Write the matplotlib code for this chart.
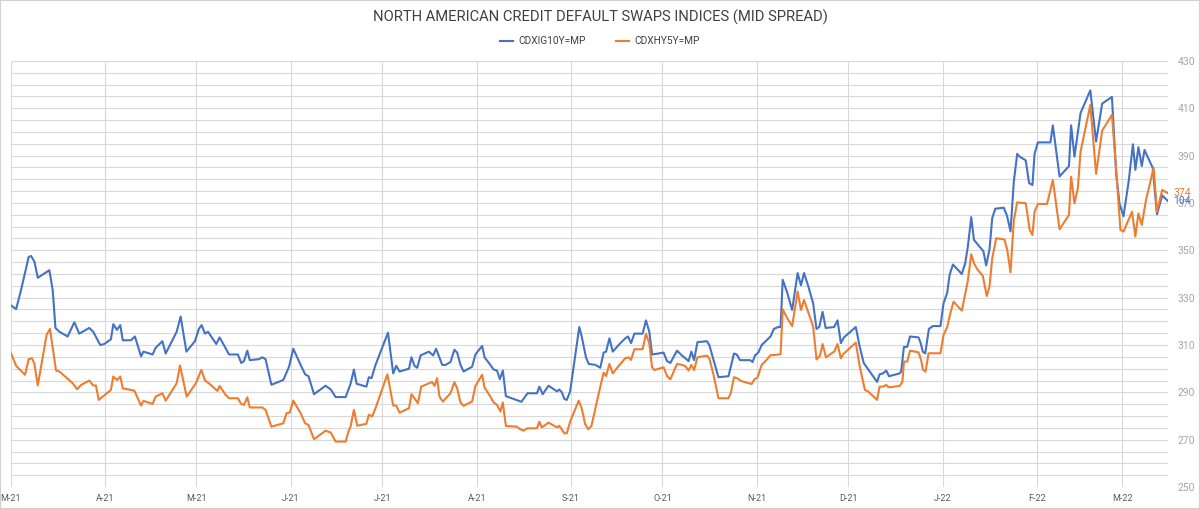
import pandas as pd
import matplotlib.pyplot as plt
from matplotlib.patches import Rectangle

plt.rcParams['font.family'] = ['Roboto', 'DejaVu Sans']

# days since 2021-03-01
ig_day = [0.0, 1.8, 3.4, 5.9, 6.7, 7.8, 8.9, 12.7, 13.8, 14.7, 16.0, 18.7, 20.9, 22.5, 25.8, 27.1,
          29.4, 30.7, 32.9, 33.7, 34.9, 36.0, 36.8, 39.5, 40.8, 42.8, 43.6, 46.6,
          47.6, 49.8, 50.9, 54.5, 55.8, 57.7, 60.5, 61.8, 62.7, 63.8, 64.8, 67.5, 68.6, 70.0,
          71.7, 74.6, 75.7, 76.6, 77.7, 78.5, 81.5, 82.6, 83.7, 85.6, 89.5, 91.4, 92.8, 95.2,
          96.7, 97.8, 99.6, 103.4, 105.1, 106.7, 110.0, 111.6, 112.7, 113.6, 116.8, 117.6, 118.5,
          119.8, 123.9, 125.6, 126.6, 127.7, 130.8, 131.6, 132.6, 133.5, 134.6, 137.3, 138.7,
          139.7, 141.7, 142.8,
          144.4, 145.7, 146.6, 147.7, 148.7, 151.5, 152.6, 154.8, 155.6, 157.5, 158.6, 159.7,
          160.6, 161.6, 162.6, 165.1, 167.7, 169.7, 172.8, 173.6, 174.7, 176.6, 179.4, 180.1,
          181.0, 181.8, 182.6, 183.7, 186.7, 187.5, 188.9,
          189.8, 192.0, 193.6, 194.7, 195.5, 196.6, 197.7, 200.2, 201.8, 202.7, 203.7, 204.8,
          207.5, 208.6, 209.7, 210.6, 212.7, 214.4, 215.5, 216.6, 218.8, 220.4, 222.6, 223.5,
          224.4, 225.5, 228.6, 229.4, 230.8, 232.4, 235.7,
          237.5, 238.4, 239.5, 242.8, 243.6, 244.4, 245.5, 246.6, 248.2, 249.5, 250.6, 252.0,
          252.8, 253.5, 255.0, 256.6, 258.4, 259.5, 260.5, 261.9, 263.5, 264.6, 265.5, 266.6,
          267.6, 270.4, 271.5, 272.6, 273.6, 277.5, 278.8, 280.1, 281.2, 284.5,
          285.3, 286.4, 287.5, 288.4, 291.9, 292.4, 293.3, 294.4, 295.3, 298.1, 298.8, 299.5,
          300.3, 301.5, 302.8, 305.3, 306.3, 307.5, 308.3, 309.4, 312.3, 313.4, 314.3, 315.4,
          316.3, 317.6, 319.4, 320.3, 321.4, 322.3, 323.3, 326.1, 327.2, 328.3, 329.4, 330.5,
          331.3, 333.3, 334.4, 335.5, 336.2, 337.3, 341.4, 342.2, 344.4, 347.5, 348.2, 349.3,
          351.3, 354.5, 356.4, 358.4, 361.6, 363.0, 364.1, 365.4, 367.1, 368.5, 369.3, 370.3,
          371.4, 372.3, 375.0, 376.4, 378.1, 380.0]
ig_val = [93.2, 92.8, 94.8, 98.3, 98.4, 97.8, 96.1, 96.9, 94.8, 90.8, 90.4, 89.9, 91.4, 90.2, 90.8, 90.4,
          89.0, 89.1, 89.6, 91.2, 90.6, 91.1, 89.5, 89.5, 89.9, 87.8, 88.3, 88.0,
          88.7, 89.4, 88.1, 90.4, 92.0, 88.3, 89.4, 90.7, 91.1, 90.2, 90.4, 89.1, 89.8, 89.0,
          88.0, 88.0, 87.1, 87.3, 88.4, 87.4, 87.5, 87.7, 87.5, 84.8, 85.3, 86.7, 88.6, 86.9,
          85.9, 85.7, 83.8, 84.7, 84.3, 83.5, 83.5, 84.9, 86.4, 84.9, 84.6, 85.6, 85.5,
          86.9, 90.3, 86.0, 86.8, 86.2, 86.5, 87.7, 86.8, 86.6, 87.9, 88.3, 87.9,
          88.6, 86.9, 86.9,
          87.2, 88.5, 88.2, 86.9, 86.2, 86.7, 88.0, 88.9, 87.7, 86.9, 86.4, 86.3,
          85.4, 86.3, 83.6, 83.3, 83.0, 83.9, 83.9, 84.6, 83.8, 84.7, 84.1, 84.3,
          84.0, 83.3, 83.2, 84.1, 90.9, 89.9, 87.7,
          87.0, 86.9, 86.6, 88.2, 88.3, 89.7, 88.3, 89.2, 89.7, 89.9, 89.2, 90.2,
          90.2, 91.6, 90.4, 88.0, 88.1, 88.2, 87.3, 87.1, 88.4, 87.9, 87.3, 88.3,
          87.4, 89.3, 89.4, 89.0, 87.4, 85.6, 85.7,
          88.1, 88.0, 87.4, 87.4, 87.2, 87.9, 88.2, 89.0, 89.5, 89.9, 90.7, 90.9,
          90.9, 95.9, 94.5, 92.7, 96.6, 95.3, 96.6, 95.2, 93.4, 90.7, 90.9, 92.5,
          90.8, 90.9, 91.6, 89.2, 89.8, 90.9, 88.8, 87.1, 86.6, 85.1,
          85.9, 86.0, 86.3, 85.7, 86.0, 86.2, 88.8, 88.8, 89.9, 89.8, 89.2, 88.3,
          88.1, 90.7, 91.0, 91.0, 93.4, 94.5, 96.4, 97.5, 96.5, 97.6, 99.4, 102.5,
          100.1, 99.6, 98.9, 97.4, 99.1, 102.4, 103.4, 103.5, 102.6, 101.0, 106.3, 109.2,
          108.9, 108.5, 106.1, 105.9, 109.2, 110.4, 110.4, 112.2, 106.8, 107.9, 112.2, 108.9,
          113.5, 115.9, 110.5, 114.5, 115.2, 107.1, 103.9, 102.6, 106.3, 110.2, 107.5, 109.9,
          107.9, 109.6, 107.7, 102.8, 104.8, 104.2]

hy_day = [0.0, 1.8, 4.7, 5.9, 7.0, 7.8, 8.9, 11.8, 12.9, 14.9, 16.0, 20.4, 21.8, 23.1, 25.8, 27.1,
          28.0, 28.9, 32.9, 33.7, 34.9, 36.0, 36.8, 40.6, 42.8, 43.6, 46.6,
          47.6, 49.8, 50.9, 54.5, 55.6, 57.8, 60.8, 62.6, 63.8, 65.1, 67.9, 68.6, 70.6, 71.7,
          74.6, 75.7, 76.6, 77.7, 78.5, 82.6, 83.7, 85.6, 89.5, 90.6, 91.6, 92.8, 95.2,
          96.7, 97.8, 99.6, 103.4, 105.1, 106.7, 110.0, 110.9, 111.6, 112.7, 113.8, 116.8, 117.6,
          118.7, 119.8, 123.7, 125.6, 126.6, 127.7, 130.8, 131.6, 132.6, 133.7, 134.8, 137.3,
          138.4, 139.2, 140.0, 140.8, 141.9,
          144.4, 145.7, 146.6, 147.7, 148.7, 151.5, 152.6, 154.8, 155.6, 157.5, 158.6, 159.7,
          160.8, 161.6, 162.6, 166.2, 167.3, 168.4, 169.7, 172.8, 173.6, 174.4, 176.6, 179.4,
          180.1, 181.8, 182.6, 183.7, 186.5, 187.5, 188.6,
          189.6, 190.7, 192.0, 193.6, 194.7, 195.5, 196.6, 197.7, 199.6, 201.8, 202.9, 203.7,
          204.8, 207.5, 208.6, 209.7, 210.6, 211.4, 212.7, 214.4, 215.5, 216.6, 218.8, 220.4,
          221.5, 222.6, 223.5, 224.4, 225.5, 228.6, 229.4, 230.8, 232.4, 235.7, 236.5,
          237.5, 238.6, 239.8, 243.3, 244.2, 245.2, 246.6, 248.2, 249.5, 250.9, 252.8, 253.5,
          255.0, 256.6, 258.4, 259.5, 260.5, 263.5, 264.6, 265.7, 266.6, 267.7, 270.4, 271.5,
          272.6, 273.4, 277.5, 278.8, 280.5, 281.6, 284.5,
          285.3, 286.4, 287.5, 288.4, 291.9, 292.8, 293.3, 294.4, 295.3, 298.1, 299.0, 299.5,
          300.4, 301.4, 305.3, 306.3, 307.5, 308.6, 309.6, 312.3, 313.4, 314.3, 315.4, 316.3,
          317.4, 319.2, 320.5, 321.4, 322.3, 323.6, 326.3, 327.2, 328.3, 329.4, 330.5,
          331.3, 333.3, 334.6, 335.5, 336.2, 337.3, 340.3, 342.2, 344.4, 347.5, 348.2, 349.3,
          350.4, 351.3, 354.5, 356.4, 358.4, 361.6, 363.0, 364.4, 365.4, 368.2, 369.3, 370.3,
          371.4, 372.8, 375.3, 376.4, 378.1, 380.0]
hy_val = [306.8, 301.2, 297.4, 304.0, 304.4, 302.0, 292.9, 314.3, 316.8, 299.2, 298.8, 293.8, 291.3, 293.1, 295.0, 292.9,
          292.9, 286.8, 291.0, 296.7, 295.2, 296.7, 291.7, 290.7, 284.4, 286.4, 285.1,
          288.2, 289.6, 286.5, 293.8, 301.3, 288.2, 293.8, 299.5, 295.0, 293.8, 290.6, 292.7, 288.9, 287.5,
          287.5, 285.1, 284.7, 287.9, 283.6, 283.6, 282.6, 275.5, 276.9, 281.2, 281.4, 286.5, 281.2,
          276.9, 276.2, 270.2, 273.8, 273.0, 269.2, 269.2, 273.4, 275.5, 282.6, 275.9, 276.7, 280.5,
          279.8, 283.3, 297.6, 284.4, 284.4, 281.4, 283.3, 289.2, 287.5, 285.4, 292.4, 293.8,
          294.3, 292.7, 296.0, 288.2, 286.1,
          289.6, 294.3, 291.7, 285.7, 284.3, 286.1, 292.7, 297.4, 292.0, 288.2, 285.7, 284.7,
          281.9, 285.7, 275.8, 275.5, 274.4, 273.8, 274.8, 274.8, 277.6, 275.2, 277.2, 275.2,
          275.9, 272.7, 272.7, 277.6, 286.5, 283.3, 276.7,
          274.4, 275.8, 283.3, 292.4, 298.3, 296.9, 302.0, 298.0, 301.1, 304.4, 304.8, 303.7,
          308.2, 308.2, 314.7, 310.7, 300.6, 299.4, 299.9, 300.6, 296.9, 295.5, 302.0, 301.6,
          301.1, 299.2, 301.6, 299.4, 304.8, 305.5, 304.4, 297.3, 287.5, 287.5, 289.9,
          296.4, 295.9, 294.8, 293.5, 295.5, 296.2, 301.6, 303.7, 305.7, 305.8, 306.1, 325.1,
          321.3, 318.0, 332.6, 324.8, 329.0, 317.8, 303.9, 305.4, 310.4, 304.8, 307.2, 310.4,
          304.4, 306.2, 311.0, 300.9, 291.0, 290.3, 286.8,
          292.4, 292.4, 293.1, 292.1, 292.7, 294.5, 303.0, 303.0, 307.6, 306.9, 303.4, 299.7,
          298.7, 306.5, 306.5, 314.2, 317.5, 323.7, 328.3, 324.5, 331.6, 337.2, 348.3, 344.5,
          342.0, 339.2, 330.7, 334.7, 346.6, 355.1, 354.6, 350.4, 340.7, 362.8, 370.3,
          370.1, 369.9, 358.6, 356.5, 366.3, 369.6, 369.6, 379.7, 358.9, 364.9, 381.1, 369.9,
          376.2, 391.7, 411.4, 382.3, 400.6, 407.2, 383.9, 358.6, 357.9, 366.3, 355.8, 365.6,
          360.7, 371.3, 384.9, 366.3, 375.5, 374.1]

hy_ticks = list(range(250, 431, 20))
hy_minor = list(range(250, 431, 5))
title = "NORTH AMERICAN CREDIT DEFAULT SWAPS INDICES (MID SPREAD)"
ig_name = "CDXIG10Y=MP"
hy_name = "CDXHY5Y=MP"

blue = "#4472C4"
orange = "#ED7D31"
grid_c = "#D9D9D9"

start = pd.Timestamp("2021-03-01")
ig_dates = start + pd.to_timedelta(ig_day, unit="D")
hy_dates = start + pd.to_timedelta(hy_day, unit="D")
months = pd.date_range("2021-03-01", "2022-03-01", freq="MS")
month_labels = [d.strftime("%b")[0] + "-" + d.strftime("%y") for d in months]

fig = plt.figure(figsize=(12, 5.09), dpi=100)
ax = fig.add_axes([0.0089, 0.0432, 0.9644, 0.837])
ax2 = ax.twinx()  # hidden scale for the IG index
ax2.axis("off")

# IG line lives in ax (for layering) but uses the hidden twin's y scale
ln_ig, = ax.plot(ig_dates, ig_val, color=blue, lw=1.5, transform=ax2.transData, zorder=2)
ln_hy, = ax.plot(hy_dates, hy_val, color=orange, lw=1.5, zorder=3)

ax.set_xlim(start, hy_dates[-1])
ax.set_ylim(250, 430)
ax2.set_ylim(74, 119)

ax.set_xticks(months)
ax.set_xticklabels(month_labels)
ax.set_yticks(hy_ticks)
ax.set_yticks(hy_minor, minor=True)
ax.yaxis.tick_right()
ax.grid(True, which="both", axis="y", color=grid_c, lw=0.8)
ax.grid(True, which="major", axis="x", color=grid_c, lw=0.8)
ax.set_axisbelow(True)
for s in ax.spines.values():
    s.set_visible(False)
ax.tick_params(axis="both", which="both", length=0)
ax.tick_params(axis="y", labelsize=7.5, labelcolor="#A6A6A6", pad=7)
ax.tick_params(axis="x", labelsize=6.5, labelcolor="#595959", pad=5)

# end-of-series labels (the IG label sits over the 370 tick, as in the original)
ax.annotate(f"{hy_val[-1]:.0f}", xy=(hy_dates[-1], hy_val[-1]), xytext=(4, 0),
            textcoords="offset points", color=orange, fontsize=7.5, va="center",
            annotation_clip=False)
ax2.annotate(f"{ig_val[-1]:.0f}", xy=(ig_dates[-1], ig_val[-1]), xytext=(4, 0),
             textcoords="offset points", color=blue, fontsize=7.5, va="center",
             annotation_clip=False)

fig.text(0.5, 0.966, title, ha="center", va="center", fontsize=10.6, color="#404040")
fig.legend([ln_ig, ln_hy], [ig_name, hy_name], loc="center", bbox_to_anchor=(0.5, 0.919),
           ncol=2, frameon=False, fontsize=7.3, handlelength=1.3, handletextpad=0.5,
           columnspacing=3, labelcolor="#404040")

fig.add_artist(Rectangle((0, 0), 1, 1, transform=fig.transFigure, fill=False,
                         edgecolor="#D0D0D0", lw=1.5))

fig.savefig("out.png", dpi=100)
